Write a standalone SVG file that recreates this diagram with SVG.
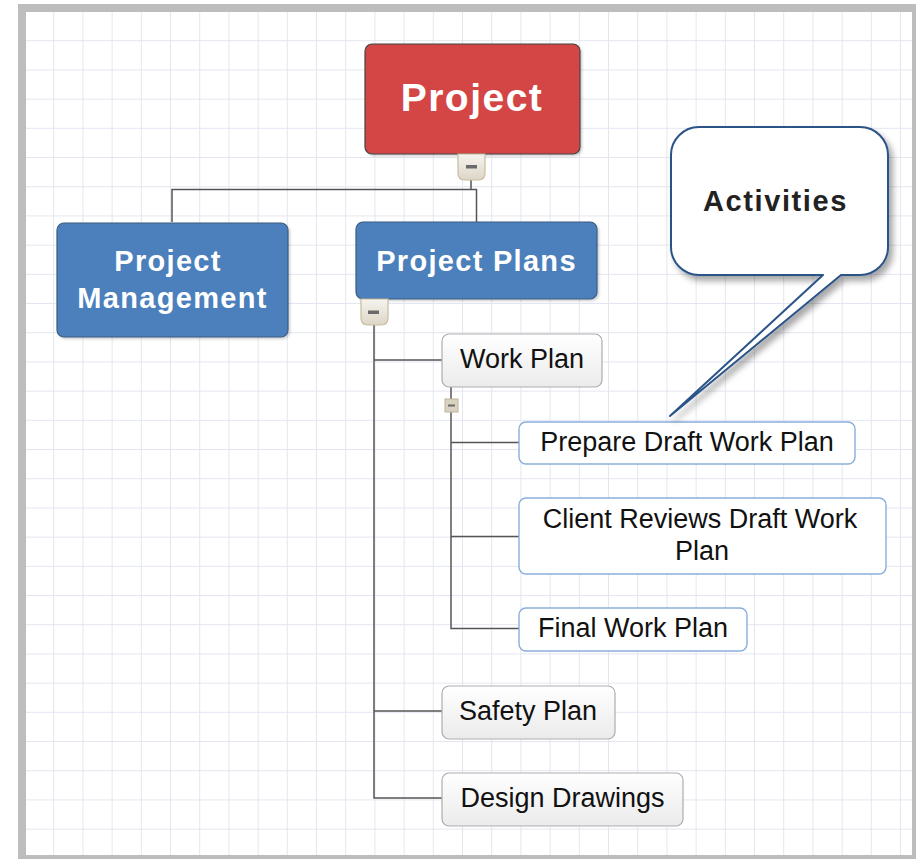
<svg xmlns="http://www.w3.org/2000/svg" width="916" height="859" viewBox="0 0 916 859">
  <defs>
    <pattern id="grid" x="25" y="12" width="29.2" height="29.2" patternUnits="userSpaceOnUse">
      <path d="M29.2 0 V29.2 M0 29.2 H29.2" stroke="#e3e6f0" stroke-width="2" fill="none"/>
    </pattern>
    <linearGradient id="gWhite" x1="0" y1="0" x2="0" y2="1">
      <stop offset="0" stop-color="#ffffff"/>
      <stop offset="1" stop-color="#ebebeb"/>
    </linearGradient>
    <linearGradient id="gBtn" x1="0" y1="0" x2="0" y2="1">
      <stop offset="0" stop-color="#f6f4ef"/>
      <stop offset="1" stop-color="#dcd6c6"/>
    </linearGradient>
    <filter id="shadow" x="-20%" y="-20%" width="150%" height="150%">
      <feDropShadow dx="4" dy="5" stdDeviation="3" flood-color="#000" flood-opacity="0.35"/>
    </filter>
    <filter id="soft" x="-10%" y="-10%" width="130%" height="130%">
      <feDropShadow dx="1.5" dy="1.5" stdDeviation="1" flood-color="#000" flood-opacity="0.2"/>
    </filter>
  </defs>
  <style>
    .conn { stroke: #555; stroke-width: 1.5; fill: none; }
    .red { fill: #d44444; stroke: #444; stroke-width: 1.2; }
    .blue { fill: #4b80bc; stroke: #3d5c82; stroke-width: 1.2; }
    .grey { fill: url(#gWhite); stroke: #adadad; stroke-width: 1.2; }
    .task { fill: #ffffff; stroke: #8aaedb; stroke-width: 1.4; }
    .btn { fill: url(#gBtn); stroke: #c8bc9e; stroke-width: 1.2; }
    .minus { fill: #6a6a6a; }
    .tw { font-family: "Liberation Sans", Arial, sans-serif; font-weight: bold; fill: #ffffff; text-anchor: middle; }
    .tb { font-family: "Liberation Sans", Arial, sans-serif; font-size: 27px; fill: #111; text-anchor: middle; }
  </style>

  <!-- frame and grid -->
  <rect x="0" y="0" width="916" height="859" fill="#ffffff"/>
  <rect x="18" y="4" width="898" height="855" fill="#bdbdbd"/>
  <rect x="26" y="12" width="886" height="843" fill="#ffffff"/>
  <rect x="26" y="12" width="886" height="843" fill="url(#grid)"/>

  <!-- connectors -->
  <g id="connectors">
    <path class="conn" d="M471 180 V189.5"/>
    <path class="conn" d="M172 222 V189.5 H476.5 V222"/>
    <path class="conn" d="M374 325 V798 H442"/>
    <path class="conn" d="M374 360 H442"/>
    <path class="conn" d="M374 711 H442"/>
    <path class="conn" d="M451 387 V628.5 H519"/>
    <path class="conn" d="M451 442.5 H519"/>
    <path class="conn" d="M451 536.5 H519"/>
  </g>

  <!-- nodes -->
  <g id="project">
    <rect class="red" x="365" y="44" width="215" height="110" rx="7" filter="url(#soft)"/>
    <text class="tw" x="472" y="111" font-size="39" letter-spacing="1.5">Project</text>
  </g>
  <g id="project-btn">
    <path class="btn" d="M458 154 H485 V173 Q485 180 478 180 H465 Q458 180 458 173 Z"/>
    <rect class="minus" x="466" y="165" width="11" height="3.5"/>
  </g>

  <g id="project-management">
    <rect class="blue" x="57" y="223" width="231" height="114" rx="7" filter="url(#soft)"/>
    <text class="tw" x="168" y="271" font-size="29" letter-spacing="1.3">Project</text>
    <text class="tw" x="172.5" y="308" font-size="29" letter-spacing="1.3">Management</text>
  </g>

  <g id="project-plans">
    <rect class="blue" x="356" y="222" width="241" height="77" rx="7" filter="url(#soft)"/>
    <text class="tw" x="476.5" y="271" font-size="29" letter-spacing="1.3">Project Plans</text>
  </g>
  <g id="project-plans-btn">
    <path class="btn" d="M361 299 H388 V318 Q388 325 381 325 H368 Q361 325 361 318 Z"/>
    <rect class="minus" x="368" y="310.5" width="11" height="3.5"/>
  </g>

  <g id="work-plan">
    <rect class="grey" x="442" y="334" width="160" height="53" rx="7"/>
    <text class="tb" x="522" y="368">Work Plan</text>
  </g>
  <g id="work-plan-btn">
    <rect x="445" y="399" width="13" height="13" fill="#d9d2c2" stroke="#bdb397" stroke-width="1"/>
    <rect class="minus" x="448" y="404.5" width="7" height="2"/>
  </g>

  <g id="prepare-draft">
    <rect class="task" x="519" y="422" width="336" height="42" rx="7"/>
    <text class="tb" x="687" y="450.5">Prepare Draft Work Plan</text>
  </g>

  <g id="client-reviews">
    <rect class="task" x="519" y="498" width="367" height="76" rx="7"/>
    <text class="tb" x="700" y="528">Client Reviews Draft Work</text>
    <text class="tb" x="702" y="560">Plan</text>
  </g>

  <g id="final-work-plan">
    <rect class="task" x="519" y="608" width="228" height="43" rx="7"/>
    <text class="tb" x="633" y="637">Final Work Plan</text>
  </g>

  <g id="safety-plan">
    <rect class="grey" x="442" y="686" width="173" height="53" rx="7"/>
    <text class="tb" x="528" y="720">Safety Plan</text>
  </g>

  <g id="design-drawings">
    <rect class="grey" x="442" y="773" width="241" height="53" rx="7"/>
    <text class="tb" x="562.5" y="807">Design Drawings</text>
  </g>

  <g id="activities-callout">
    <path d="M699 127 H860 A28 28 0 0 1 888 155 V247 A28 28 0 0 1 860 275 H841 L670 416 L823 275 H699 A28 28 0 0 1 671 247 V155 A28 28 0 0 1 699 127 Z" fill="#ffffff" stroke="#2b5387" stroke-width="2" stroke-linejoin="round" filter="url(#shadow)"/>
    <text x="775.5" y="211" font-family="'Liberation Sans', Arial, sans-serif" font-weight="bold" font-size="29" letter-spacing="1.6" fill="#222" text-anchor="middle">Activities</text>
  </g>
</svg>
